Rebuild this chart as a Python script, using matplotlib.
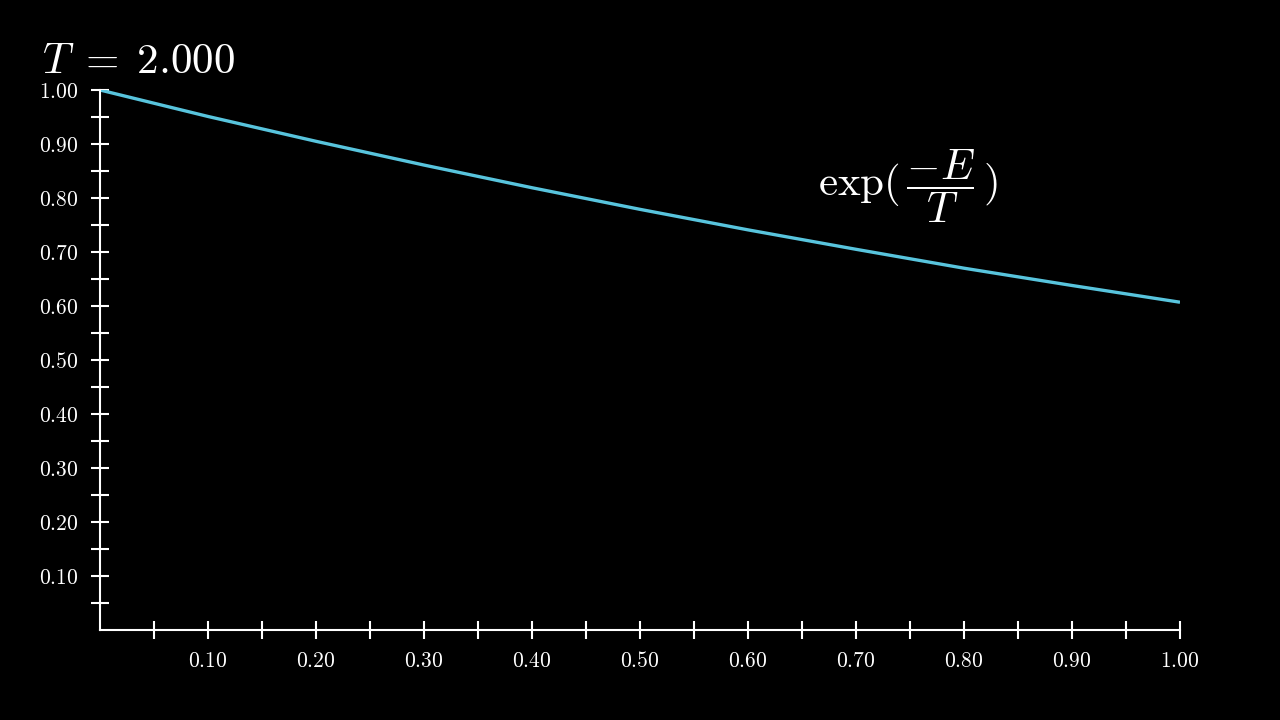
import numpy as np
import matplotlib
matplotlib.use('Agg')
from matplotlib import pyplot as plt

energy = [0.0, 0.1, 0.2, 0.3, 0.4, 0.5, 0.6, 0.7, 0.8, 0.9, 1.0]
prob = [1.000, 0.951, 0.905, 0.861, 0.819, 0.779, 0.741, 0.705, 0.670, 0.638, 0.607]

x_ticks = [0.05 * i for i in range(1, 21)]
y_ticks = [0.05 * i for i in range(1, 21)]
x_labels = ['%.2f' % v if i % 2 == 1 else '' for i, v in enumerate(x_ticks)]
y_labels = ['%.2f' % v if i % 2 == 1 else '' for i, v in enumerate(y_ticks)]

plt.rcParams['mathtext.fontset'] = 'cm'
plt.rcParams['font.family'] = ['DejaVu Serif']

fig = plt.figure(figsize=(12.8, 7.2), dpi=100, facecolor='black')
ax = fig.add_axes([100/1280, 1 - 630/720, 1080/1280, 540/720])
ax.set_facecolor('black')

ax.plot(energy, prob, color='#58C4DD', lw=2.4, solid_capstyle='butt')

ax.set_xlim(0, 1)
ax.set_ylim(0, 1)
for s in ['top', 'right']:
    ax.spines[s].set_visible(False)
for s in ['left', 'bottom']:
    ax.spines[s].set_color('white')
    ax.spines[s].set_linewidth(1.5)

ax.set_xticks(x_ticks)
ax.set_yticks(y_ticks)
ax.set_xticklabels(['$%s$' % l if l else '' for l in x_labels], color='white', fontsize=15.5)
ax.set_yticklabels(['$%s$' % l if l else '' for l in y_labels], color='white', fontsize=15.5)
ax.tick_params(axis='both', direction='inout', length=12.5, width=1.5, color='white')
ax.tick_params(axis='x', pad=8.5)
ax.tick_params(axis='y', pad=9)

fig.text(42/1280, 1 - 73/720, r'$T\;=\;2.000$', color='white', fontsize=31, va='baseline')
fig.text(818/1280, 1 - 186/720, r'$\exp(\,\dfrac{-E}{T}\,)$', color='white', fontsize=31, va='center')

fig.savefig('out.png', dpi=100, facecolor='black')
